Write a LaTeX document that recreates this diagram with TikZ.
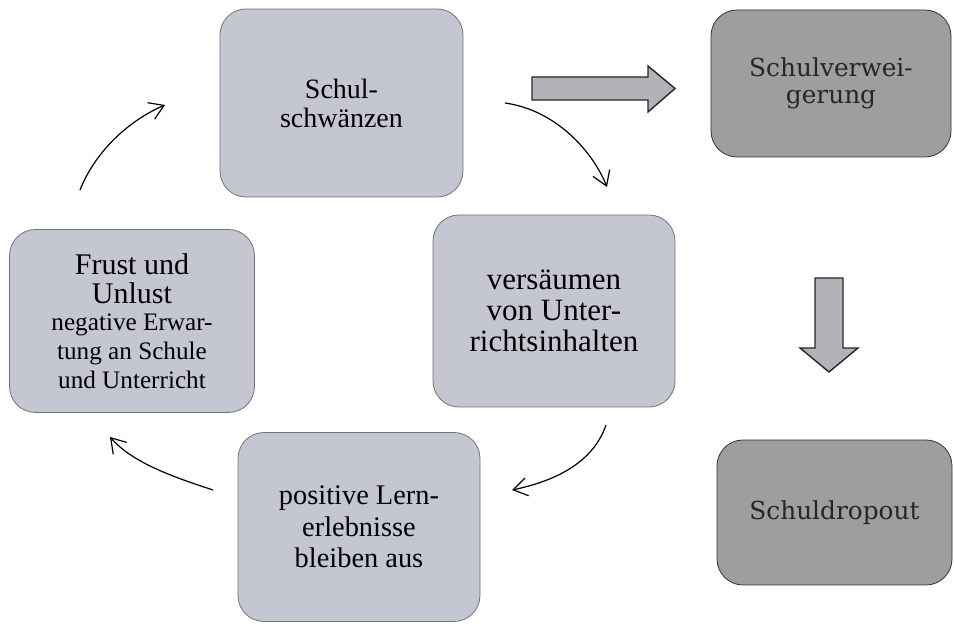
\documentclass[tikz,border=0pt]{standalone}
\usepackage{fontspec}
\setmainfont{Liberation Serif}
\newfontfamily\boxfont{DejaVu Serif}
\usetikzlibrary{arrows.meta}

\definecolor{lightbox}{RGB}{196,199,209}
\definecolor{darkbox}{RGB}{158,158,158}
\definecolor{blockfill}{RGB}{178,178,184}

\begin{document}
\begin{tikzpicture}[x=.5pt,y=-.5pt,
  cyclebox/.style={draw=black!55,fill=lightbox,rounded corners=13pt,align=center,
    font=\fontsize{14}{14.5}\selectfont,inner sep=0pt},
  endbox/.style={draw=black!80,fill=darkbox,rounded corners=13pt,align=center,
    font=\boxfont\fontsize{12.4}{13.5}\selectfont,text=black!85,inner sep=0pt},
  thin arrow/.style={-{Straight Barb[length=7pt,width=9pt]},black,line width=.6pt},
  block arrow/.style={draw=black!85,fill=blockfill,line width=.7pt,line join=miter}]
\useasboundingbox (0,0) rectangle (954,624);

\node[cyclebox,minimum width=121.5pt,minimum height=94pt] (schul) at (341.5,103) {\\[-4pt]Schul-\\schwänzen};
\node[cyclebox,minimum width=121pt,minimum height=96pt,font=\fontsize{15.5}{15.5}\selectfont] (versaeumen) at (554,311) {versäumen\\von Unter-\\richtsinhalten};
\node[cyclebox,minimum width=121pt,minimum height=94.5pt,font=\fontsize{14.2}{15.7}\selectfont] (positiv) at (359,527) {positive Lern-\\erlebnisse\\bleiben aus};
\node[cyclebox,minimum width=122.5pt,minimum height=91.5pt,font=\fontsize{15}{14.5}\selectfont] (frust) at (132,321)
  {Frust und\\Unlust\\[-1pt]{\fontsize{12.6}{11.8}\selectfont negative Erwar-}\\
   {\fontsize{12.6}{11.8}\selectfont tung an Schule}\\{\fontsize{12.6}{11.8}\selectfont und Unterricht}};

\node[endbox,minimum width=120pt,minimum height=73.5pt] (verweigerung) at (831,83.5) {Schulverwei-\\gerung};
\node[endbox,minimum width=117.5pt,minimum height=72.5pt] (dropout) at (834.5,512.5) {Schuldropout};

% Kreislauf
\coordinate (a1) at (505,103);  \coordinate (b1) at (607,187);
\coordinate (a2) at (606,425);  \coordinate (b2) at (512,490);
\coordinate (a3) at (213,490);  \coordinate (b3) at (110,437);
\coordinate (a4) at (80,190);   \coordinate (b4) at (165,105);

\draw[thin arrow] (a1) .. controls (555,110) and (592,150) .. (b1);
\draw[thin arrow] (a2) .. controls (594,460) and (560,480) .. (b2);
\draw[thin arrow] (a3) .. controls (170,476) and (132,462) .. (b3);
\draw[thin arrow] (a4) .. controls (96,150) and (130,120) .. (b4);

% Blockpfeile
\draw[block arrow] (532,77) -- (648,77) -- (648,66) -- (675,88.5) -- (648,112) -- (648,100) -- (532,100) -- cycle;
\draw[block arrow] (815,278) -- (843,278) -- (843,348) -- (858,348) -- (829,372) -- (800,348) -- (815,348) -- cycle;

\end{tikzpicture}
\end{document}
